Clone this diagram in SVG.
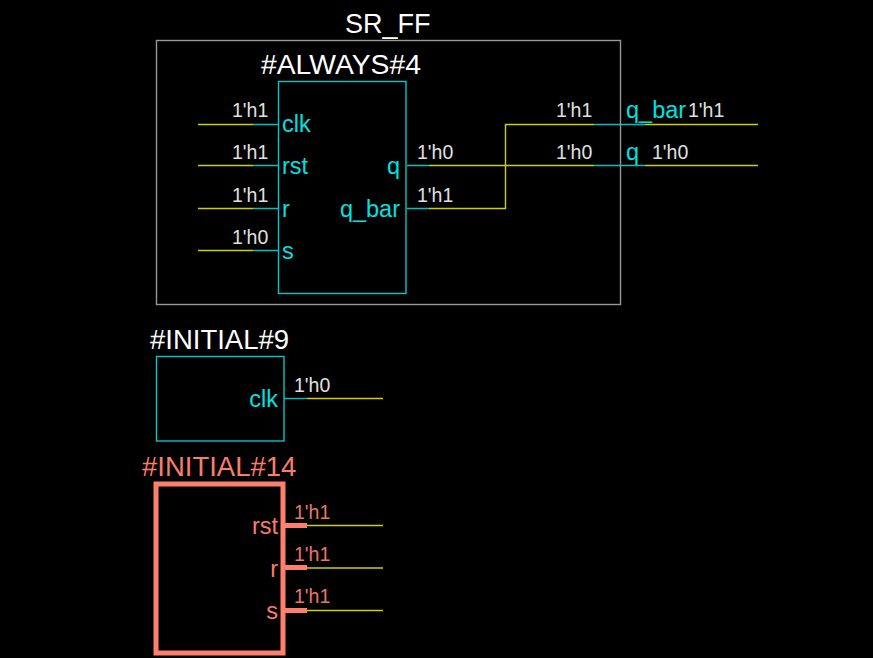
<svg xmlns="http://www.w3.org/2000/svg" width="873" height="658" viewBox="0 0 873 658">
<style>
text{font-family:"Liberation Sans",Arial,sans-serif}
.t{fill:#fff;font-size:27.500px}
.v{fill:#e0e0e0;font-size:19.500px}
.p{fill:#00e0e0;font-size:23.500px}
.box{fill:none;stroke:#00c8c8;stroke-width:1.400}
.w{fill:none;stroke:#d0d000;stroke-width:1.400}
.c{fill:none;stroke:#00c0c0;stroke-width:1.400}
.r{fill:#fa7d6c}
.rb{fill:none;stroke:#ff7f6e;stroke-width:5}
.rp{fill:none;stroke:#ff7f6e;stroke-width:5}
.rv{fill:#e87868;font-size:19.500px}
.e{text-anchor:end}
</style>
<rect width="873" height="658" fill="#000"/>
<g id="connectors">
<path class="w" d="M198 124.500H253M198 165.500H253M198 208.500H253M198 250.500H253"/>
<path class="c" d="M253 124.500H278M253 165.500H278M253 208.500H278M253 250.500H278"/>
<path class="w" d="M429 165.500H594M429 208.500H505.500V124.500H594M645 124.500H758M645 165.500H758"/>
<path class="c" d="M407 165.500H429M407 208.500H429M594 124.500H645M594 165.500H645"/>
<path class="c" d="M284 398.500H307"/>
<path class="w" d="M307 398.500H383M307 525.500H383M307 568H383M307 610.500H383"/>
</g>
<g id="SR_FF">
<rect x="156.500" y="40.500" width="464" height="264" fill="none" stroke="#969696" stroke-width="1.400"/>
<text class="t" x="345" y="33" style="font-size:27px">SR_FF</text>
<text class="p" x="626" y="118">q_bar</text>
<text class="p" x="626" y="160">q</text>
<text class="v" x="556" y="117">1'h1</text>
<text class="v" x="556" y="159">1'h0</text>
<text class="v" x="688" y="117">1'h1</text>
<text class="v" x="652" y="159">1'h0</text>
</g>
<g id="always4">
<rect x="278.500" y="81.500" width="127.500" height="212" class="box"/>
<text class="t" x="261" y="74" style="font-size:28.300px">#ALWAYS#4</text>
<text class="p" x="282" y="132">clk</text>
<text class="p" x="282" y="174">rst</text>
<text class="p" x="282" y="217">r</text>
<text class="p" x="282" y="259">s</text>
<text class="p e" x="400" y="174">q</text>
<text class="p e" x="400" y="217">q_bar</text>
<text class="v" x="232" y="117">1'h1</text>
<text class="v" x="232" y="159">1'h1</text>
<text class="v" x="232" y="202">1'h1</text>
<text class="v" x="232" y="244">1'h0</text>
<text class="v" x="417" y="159">1'h0</text>
<text class="v" x="417" y="202">1'h1</text>
</g>
<g id="initial9">
<rect x="156.500" y="356.500" width="127.500" height="84.500" class="box"/>
<text class="t" x="150" y="349">#INITIAL#9</text>
<text class="p e" x="278" y="407">clk</text>
<text class="v" x="294" y="392">1'h0</text>
</g>
<g id="initial14">
<rect x="156" y="484" width="127" height="169" class="rb"/>
<text class="r" font-size="27.500" x="142" y="476">#INITIAL#14</text>
<path class="rp" d="M283 525.500H307M283 567.500H307M283 610.500H307"/>
<text class="r e" font-size="23.500" x="278" y="534">rst</text>
<text class="r e" font-size="23.500" x="278" y="577">r</text>
<text class="r e" font-size="23.500" x="278" y="619">s</text>
<text class="rv" x="294" y="519">1'h1</text>
<text class="rv" x="294" y="561">1'h1</text>
<text class="rv" x="294" y="603">1'h1</text>
</g>
</svg>
